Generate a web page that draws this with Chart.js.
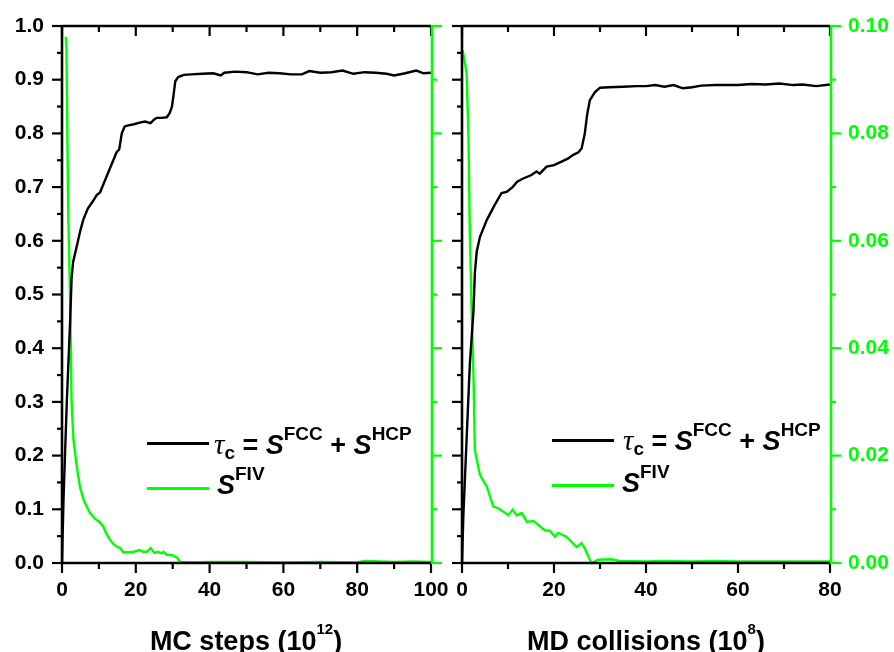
<!DOCTYPE html>
<html>
<head>
<meta charset="utf-8">
<script src="https://cdn.jsdelivr.net/npm/chart.js@4.4.1/dist/chart.umd.min.js"></script>
<style>
  body { margin: 0; background: #fff; }
  #wrap { position: relative; width: 894px; height: 652px; overflow: hidden; background: #fff; }
  canvas { position: absolute; left: 0; top: 0; }
  .lline { position: absolute; width: 62px; height: 2.5px; }
  .ltext, .title { position: absolute; font-family: 'Liberation Sans', Arial, sans-serif; font-weight: bold; white-space: nowrap; color: #000; }
  .ltext { font-size: 27px; line-height: 27px; }
  .ltext i { font-style: italic; }
  .ltext .tau { font-family: 'Liberation Serif', 'Times New Roman', serif; font-weight: normal; font-style: italic; font-size: 29px; }
  .ltext sup { font-size: 19px; position: relative; top: -14px; vertical-align: baseline; line-height: 0; }
  .ltext sub { font-size: 19px; position: relative; top: 5px; vertical-align: baseline; line-height: 0; }
  .title { font-size: 27px; line-height: 27px; text-align: center; width: 400px; top: 628px; }
  .title sup { font-size: 15px; position: relative; top: -16px; vertical-align: baseline; line-height: 0; }
</style>
</head>
<body>
<div id="wrap">
  <canvas id="mcChart" width="894" height="652"></canvas>
  <canvas id="mdChart" width="894" height="652"></canvas>

  <div class="lline" style="left:147px;top:442px;background:#000"></div>
  <div class="ltext" style="left:214px;top:431px"><span class="tau">τ</span><sub>c</sub> = <i>S</i><sup>FCC</sup> + <i>S</i><sup>HCP</sup></div>
  <div class="lline" style="left:147px;top:487px;background:#00ff00"></div>
  <div class="ltext" style="left:217px;top:472px"><i>S</i><sup>FIV</sup></div>

  <div class="lline" style="left:552px;top:439px;background:#000"></div>
  <div class="ltext" style="left:623px;top:427px"><span class="tau">τ</span><sub>c</sub> = <i>S</i><sup>FCC</sup> + <i>S</i><sup>HCP</sup></div>
  <div class="lline" style="left:552px;top:484px;background:#00ff00"></div>
  <div class="ltext" style="left:622px;top:470px"><i>S</i><sup>FIV</sup></div>

  <div class="title" style="left:46px">MC steps (10<sup>12</sup>)</div>
  <div class="title" style="left:446px">MD collisions (10<sup>8</sup>)</div>
</div>

<script>
// ---- data ----
// left panel: MC steps (10^12)
var mcTauX = [0, 0.4, 1.3, 2.2, 2.6, 3, 4, 5, 5.8, 7, 8.5, 9.4, 10.3, 11.5, 13, 14.8, 15.5, 16.2, 17, 18, 19.5, 21, 22.5, 24, 25, 25.7, 27, 28.4, 29.2, 29.8, 30.3, 30.7, 31.5, 33, 35, 38, 41, 43, 44, 47, 50, 53, 56, 59, 62, 65, 67, 70, 73, 76, 79, 82, 85, 88, 90, 93, 96, 98, 100];
var mcTau  = [0.0, 0.117, 0.30, 0.45, 0.53, 0.56, 0.59, 0.62, 0.64, 0.66, 0.675, 0.685, 0.69, 0.71, 0.735, 0.765, 0.77, 0.80, 0.813, 0.815, 0.817, 0.82, 0.822, 0.819, 0.826, 0.829, 0.829, 0.83, 0.838, 0.85, 0.875, 0.897, 0.905, 0.909, 0.910, 0.911, 0.912, 0.908, 0.913, 0.915, 0.914, 0.910, 0.913, 0.912, 0.910, 0.910, 0.916, 0.913, 0.914, 0.917, 0.911, 0.914, 0.913, 0.911, 0.908, 0.912, 0.917, 0.912, 0.913];
var mcFivX = [1.0, 1.2, 1.7, 2.2, 2.6, 3.1, 4, 4.9, 6, 7.6, 9, 10.3, 11.2, 12, 13, 14, 15, 15.8, 16.6, 18, 19.5, 21, 22, 23, 24, 25, 26, 27, 27.5, 28.5, 29.8, 31.2, 32, 35, 40, 50, 60, 70, 80, 82, 90, 95, 100];
var mcFiv  = [0.098, 0.096, 0.065, 0.049, 0.030, 0.023, 0.018, 0.014, 0.0115, 0.0093, 0.0082, 0.0076, 0.0068, 0.0055, 0.0043, 0.0035, 0.003, 0.0028, 0.002, 0.002, 0.0021, 0.0024, 0.0021, 0.0021, 0.0028, 0.0019, 0.0021, 0.0018, 0.0021, 0.0015, 0.0015, 0.001, 0.0002, 0.0001, 0.0002, 0.0002, 0.0001, 0.0002, 0.0001, 0.0004, 0.0002, 0.0003, 0.0002];

// right panel: MD collisions (10^8)
var mdTauX = [0, 0.3, 1.0, 1.7, 2.5, 2.8, 3.2, 3.9, 5.4, 7, 8.6, 9.7, 11, 12, 13.3, 15, 16.2, 16.9, 18.4, 20, 21.3, 23, 24.2, 25.3, 26, 26.7, 27.2, 27.8, 28.9, 30, 32, 35, 38, 40, 42, 44, 46, 48, 50, 52, 55, 58, 60, 63, 66, 69, 72, 74, 77, 80];
var mdTau  = [0.0, 0.09, 0.23, 0.37, 0.47, 0.54, 0.58, 0.607, 0.639, 0.665, 0.689, 0.691, 0.70, 0.71, 0.716, 0.722, 0.729, 0.725, 0.738, 0.741, 0.746, 0.753, 0.76, 0.765, 0.772, 0.80, 0.835, 0.862, 0.877, 0.885, 0.886, 0.887, 0.888, 0.888, 0.890, 0.887, 0.890, 0.884, 0.886, 0.889, 0.890, 0.890, 0.890, 0.892, 0.891, 0.893, 0.890, 0.891, 0.888, 0.891];
var mdFivX = [0.15, 1.0, 1.4, 1.7, 2.1, 2.5, 2.8, 3.9, 5.4, 6.8, 7.9, 10.1, 11, 11.9, 13, 14.1, 15.6, 18, 19.1, 20.2, 20.9, 22.7, 24.9, 26, 26.7, 27.8, 28.2, 29.6, 32.5, 34.3, 40, 44, 50, 55, 60, 70, 80];
var mdFiv  = [0.0955, 0.0912, 0.080, 0.0614, 0.047, 0.0347, 0.021, 0.0164, 0.0142, 0.0105, 0.0102, 0.0089, 0.0099, 0.0089, 0.0093, 0.0077, 0.0078, 0.0061, 0.006, 0.0049, 0.0056, 0.0049, 0.003, 0.0037, 0.0027, 0.0006, 0.0, 0.0006, 0.0007, 0.0004, 0.0003, 0.0004, 0.0003, 0.0004, 0.0003, 0.0003, 0.0003];

var tauLabel = 'τc = S FCC + S HCP';
var fivLabel = 'S FIV';

var GREEN = '#00ff00';
var FONT = "'Liberation Sans', Arial, sans-serif";

function pts(xs, ys) {
    var out = [];
    for (var i = 0; i < xs.length; i++) out.push({x: xs[i], y: ys[i]});
    return out;
}

function tick(ctx, x1, y1, x2, y2) {
    ctx.beginPath();
    ctx.moveTo(x1, y1);
    ctx.lineTo(x2, y2);
    ctx.stroke();
}

// axes frame: black left/top/bottom with major+minor ticks, green right axis
var framePlugin = {
    id: 'frame',
    afterDraw: function (chart) {
        var ctx = chart.ctx, a = chart.chartArea;
        var sx = chart.scales.x, sy = chart.scales.y, sy2 = chart.scales.y2;
        ctx.save();
        ctx.strokeStyle = '#000';
        ctx.lineWidth = 2.2;
        for (var v = 0; v <= sx.max + 0.001; v += 10) {
            var px = sx.getPixelForValue(v);
            var len = (Math.round(v) % 20 === 0) ? 10 : 6;
            tick(ctx, px, a.bottom, px, a.bottom + len);
            tick(ctx, px, a.top, px, a.top + len);
        }
        for (var i = 0; i <= 20; i++) {
            var py = sy.getPixelForValue(i * 0.05);
            var l = (i % 2 === 0) ? 10 : 5;
            tick(ctx, a.left - l, py, a.left, py);
        }
        ctx.lineWidth = 2.6;
        tick(ctx, a.left, a.top, a.left, a.bottom);
        tick(ctx, a.left, a.top, a.right, a.top);
        tick(ctx, a.left, a.bottom, a.right, a.bottom);

        ctx.strokeStyle = GREEN;
        ctx.lineWidth = 2.2;
        for (var j = 0; j <= 10; j++) {
            var gy = sy2.getPixelForValue(j * 0.01);
            var gl = (j % 2 === 0) ? 11 : 6;
            tick(ctx, a.right, gy, a.right + gl, gy);
        }
        ctx.lineWidth = 2.6;
        tick(ctx, a.right + 1, a.top - 1, a.right + 1, a.bottom + 1);
        ctx.restore();
    }
};

function makeChart(id, xMax, tauX, tau, fivX, fiv, pad, yW, y2W, showLeft) {
    var ctx = document.getElementById(id).getContext('2d');
    return new Chart(ctx, {
        type: 'line',
        data: {
            datasets: [{
                label: tauLabel,
                data: pts(tauX, tau),
                yAxisID: 'y',
                borderColor: '#000',
                borderWidth: 2.4,
                pointRadius: 0,
                tension: 0,
                fill: false
            }, {
                label: fivLabel,
                data: pts(fivX, fiv),
                yAxisID: 'y2',
                borderColor: GREEN,
                borderWidth: 2.4,
                pointRadius: 0,
                tension: 0,
                fill: false
            }]
        },
        options: {
            responsive: false,
            animation: false,
            devicePixelRatio: 1,
            layout: { padding: pad },
            plugins: { legend: { display: false }, tooltip: { enabled: false } },
            scales: {
                x: {
                    type: 'linear', position: 'bottom', min: 0, max: xMax,
                    grid: { display: false, drawTicks: false },
                    border: { display: false },
                    ticks: { stepSize: 20, color: '#000', padding: 15, maxRotation: 0, autoSkip: false,
                             font: { family: FONT, size: 21, weight: 'bold' } },
                    afterFit: function (s) { s.height = 89; s.paddingLeft = 0; s.paddingRight = 0; }
                },
                y: {
                    type: 'linear', position: 'left', min: 0, max: 1,
                    grid: { display: false, drawTicks: false },
                    border: { display: false },
                    ticks: { display: showLeft, stepSize: 0.1, color: '#000', padding: 18,
                             font: { family: FONT, size: 21, weight: 'bold' },
                             callback: function (v) { return v.toFixed(1); } },
                    afterFit: function (s) { s.width = yW; s.paddingTop = 0; s.paddingBottom = 0; }
                },
                y2: {
                    type: 'linear', position: 'right', min: 0, max: 0.1,
                    grid: { display: false, drawTicks: false },
                    border: { display: false },
                    ticks: { display: !showLeft, stepSize: 0.02, color: GREEN, padding: 18,
                             font: { family: FONT, size: 21, weight: 'bold' },
                             callback: function (v) { return v.toFixed(2); } },
                    afterFit: function (s) { s.width = y2W; s.paddingTop = 0; s.paddingBottom = 0; }
                }
            }
        },
        plugins: [framePlugin]
    });
}

makeChart('mcChart', 100, mcTauX, mcTau, mcFivX, mcFiv, {left: 0, right: 447, top: 26, bottom: 0}, 62, 16, true);
makeChart('mdChart', 80, mdTauX, mdTau, mdFivX, mdFiv, {left: 447, right: 0, top: 26, bottom: 0}, 15, 64, false);
</script>
</body>
</html>
